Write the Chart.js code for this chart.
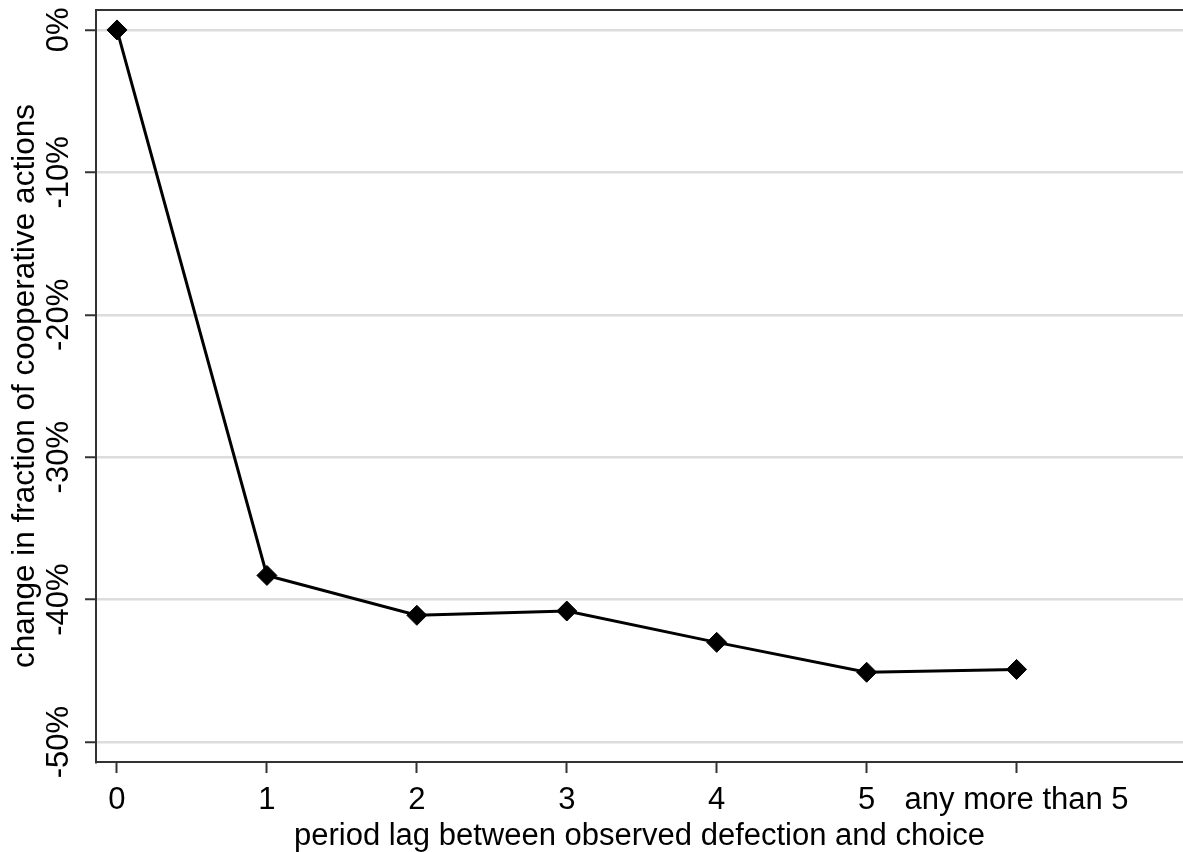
<html>
<head>
  <script src="https://cdn.jsdelivr.net/npm/chart.js"></script>
  <style>
    html, body { margin: 0; background: #fff; overflow: hidden; }
    canvas { display: block; }
  </style>
</head>
<body>
<canvas id="lagChart" width="1183" height="852"></canvas>
<script>
  // period lag categories and their positions on the x scale
  const lagLabels = ['0', '1', '2', '3', '4', '5', 'any more than 5'];
  const lagPositions = [0, 1, 2, 3, 4, 5, 6];
  // change in fraction of cooperative actions, in percent
  const changePct = [0, -38.3, -41.1, -40.8, -43.0, -45.1, -44.9];
  const yTicks = [0, -10, -20, -30, -40, -50];

  const fontFamily = '"Liberation Sans", Arial, sans-serif';
  const axisColor = '#333';

  // top frame line, the reference has a border above the plot area
  const topFrame = {
    id: 'topFrame',
    afterDraw(chart) {
      const a = chart.chartArea;
      const ctx = chart.ctx;
      ctx.save();
      ctx.strokeStyle = axisColor;
      ctx.lineWidth = 2;
      ctx.beginPath();
      ctx.moveTo(a.left - 1, a.top);
      ctx.lineTo(a.right, a.top);
      ctx.stroke();
      ctx.restore();
    }
  };

  const points = lagPositions.map((x, i) => ({ x: x, y: changePct[i] }));

  new Chart(document.getElementById('lagChart'), {
    type: 'scatter',
    data: {
      datasets: [{
        data: points,
        showLine: true,
        borderColor: '#000',
        borderWidth: 3,
        backgroundColor: '#000',
        pointStyle: 'rectRot',
        pointRadius: 10,
        pointBorderWidth: 1,
        pointBackgroundColor: '#000',
        pointBorderColor: '#000',
        tension: 0
      }]
    },
    options: {
      responsive: false,
      animation: false,
      layout: { autoPadding: false, padding: { top: 10, right: 0, left: 0, bottom: 0 } },
      plugins: {
        legend: { display: false },
        tooltip: { enabled: false }
      },
      scales: {
        x: {
          type: 'linear',
          min: -0.14,
          max: 7.11,
          afterBuildTicks: s => { s.ticks = lagPositions.map(v => ({ value: v })); },
          afterFit: s => { s.height = 90; s.paddingLeft = 0; s.paddingRight = 0; },
          ticks: {
            autoSkip: false,
            maxRotation: 0,
            color: '#000',
            padding: 9,
            font: { family: fontFamily, size: 31 },
            callback: v => lagLabels[lagPositions.indexOf(v)]
          },
          grid: {
            drawOnChartArea: false,
            drawTicks: true,
            tickLength: 11,
            tickWidth: 2,
            tickColor: axisColor
          },
          border: { display: true, color: axisColor, width: 2 },
          title: {
            display: true,
            text: 'period lag between observed defection and choice',
            color: '#000',
            padding: { top: 0, bottom: -3 },
            font: { family: fontFamily, size: 31 }
          }
        },
        y: {
          min: -51.4,
          max: 1.4,
          afterBuildTicks: s => { s.ticks = yTicks.map(v => ({ value: v })); },
          afterFit: s => { s.width = 96; s.paddingTop = 0; s.paddingBottom = 0; },
          ticks: {
            minRotation: 90,
            maxRotation: 90,
            crossAlign: 'center',
            padding: -11,
            color: '#000',
            font: { family: fontFamily, size: 31 },
            callback: v => v + '%'
          },
          grid: {
            color: '#dcdcdc',
            lineWidth: 2.5,
            drawTicks: true,
            tickLength: 11,
            tickWidth: 2,
            tickColor: axisColor
          },
          border: { display: true, color: axisColor, width: 2 },
          title: {
            display: true,
            text: 'change in fraction of cooperative actions',
            color: '#000',
            padding: { top: 6, bottom: 0 },
            font: { family: fontFamily, size: 31.5 }
          }
        }
      }
    },
    plugins: [topFrame]
  });
</script>
</body>
</html>
